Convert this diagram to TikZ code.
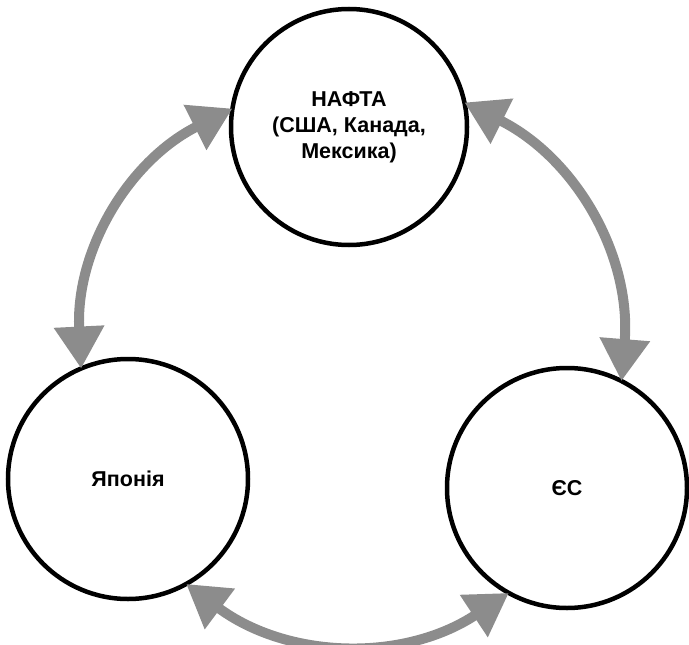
\documentclass[tikz,border=0pt]{standalone}
\usepackage{fontspec}
\setmainfont{Liberation Sans}
\usetikzlibrary{arrows.meta}
\begin{document}
\begin{tikzpicture}[x=1pt,y=-1pt,
  bloc/.style={circle, draw, line width=4.5pt, minimum size=240pt, inner sep=0pt,
    outer sep=0pt, align=center, font=\fontsize{21.5}{26}\selectfont\bfseries},
  link/.style={draw=black!45, line width=10pt,
    {Triangle[length=42pt,width=48pt]}-{Triangle[length=42pt,width=48pt]}}]
\useasboundingbox (0,0) rectangle (689,645);
% the three regional blocs
\node[bloc, minimum size=236pt] (nafta) at (349,127) {НАФТА\\(США, Канада,\\Мексика)};
\node[bloc] (japan) at (128,479) {Японія};
\node[bloc] (eu) at (567,488) {ЄС};
% two-way trade links
\draw[link] (nafta.171) to[bend right=33] (japan.113);
\draw[link] (nafta.12) to[bend left=34] (eu.63);
\draw[link] (japan.-61) to[bend right=35] (eu.241);
\end{tikzpicture}
\end{document}
